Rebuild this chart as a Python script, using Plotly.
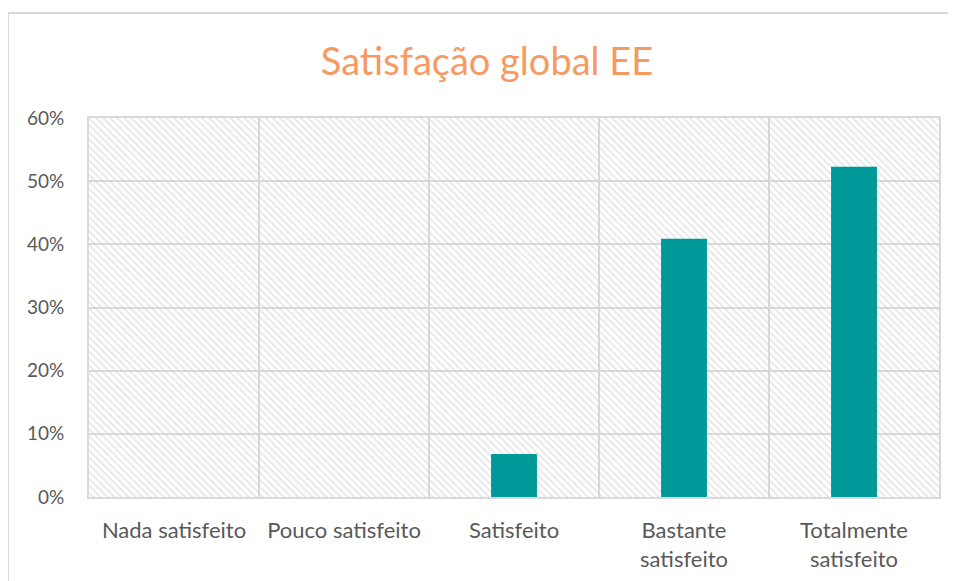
import plotly.graph_objects as go

categories = ["Nada satisfeito", "Pouco satisfeito", "Satisfeito", "Bastante<br>satisfeito", "Totalmente<br>satisfeito"]
values = [0.0, 0.0, 0.068, 0.409, 0.523]
y_max = 0.6
title_text = "Satisfação global EE"

W, H = 956, 581
L, R, T, B = 81, 25, 110, 92
PW, PH = W - L - R, H - T - B

fig = go.Figure()

# hatched plot-area background
fig.add_trace(go.Bar(
    x=categories, y=[y_max] * len(categories), width=1,
    marker=dict(color="rgba(0,0,0,0)", line=dict(width=0),
                pattern=dict(shape="\\", fgcolor="#cfcfcf", size=5, solidity=0.35, fillmode="overlay")),
    hoverinfo="skip", showlegend=False,
))

fig.add_trace(go.Bar(
    x=categories, y=values, width=0.27,
    marker=dict(color="#009999", line=dict(width=0)),
    showlegend=False,
))

fig.update_layout(
    width=W, height=H,
    margin=dict(l=L, r=R, t=T, b=B),
    paper_bgcolor="white", plot_bgcolor="white",
    barmode="overlay",
    title=dict(text=title_text, x=479 / W, xanchor="center", xref="container",
               y=1 - 54 / H, yanchor="middle", yref="container",
               font=dict(family="Lato", size=38, color="#F79A62")),
    font=dict(family="Lato", size=19, color="#595959"),
    shapes=[dict(type="rect", xref="paper", yref="paper",
                 x0=(0 - L) / PW, x1=1.2, y0=-0.5, y1=1 + (T - 5) / PH,
                 line=dict(color="#d9d9d9", width=2), fillcolor="rgba(0,0,0,0)", layer="below")],
)

fig.update_xaxes(type="category", tickson="boundaries", showgrid=True, gridcolor="#d9d9d9", gridwidth=2,
                 showline=True, linecolor="#d9d9d9", linewidth=2, mirror=True, ticks="",
                 tickfont=dict(size=22, color="#595959"), ticklabelstandoff=13)
fig.update_yaxes(range=[0, y_max], dtick=0.1, tickformat=".0%", showgrid=True, gridcolor="#d9d9d9", gridwidth=2,
                 showline=True, linecolor="#d9d9d9", linewidth=2, mirror=True, zeroline=False, ticks="",
                 tickfont=dict(size=19, color="#595959"), ticklabelstandoff=19)

fig.write_html("out.html")
